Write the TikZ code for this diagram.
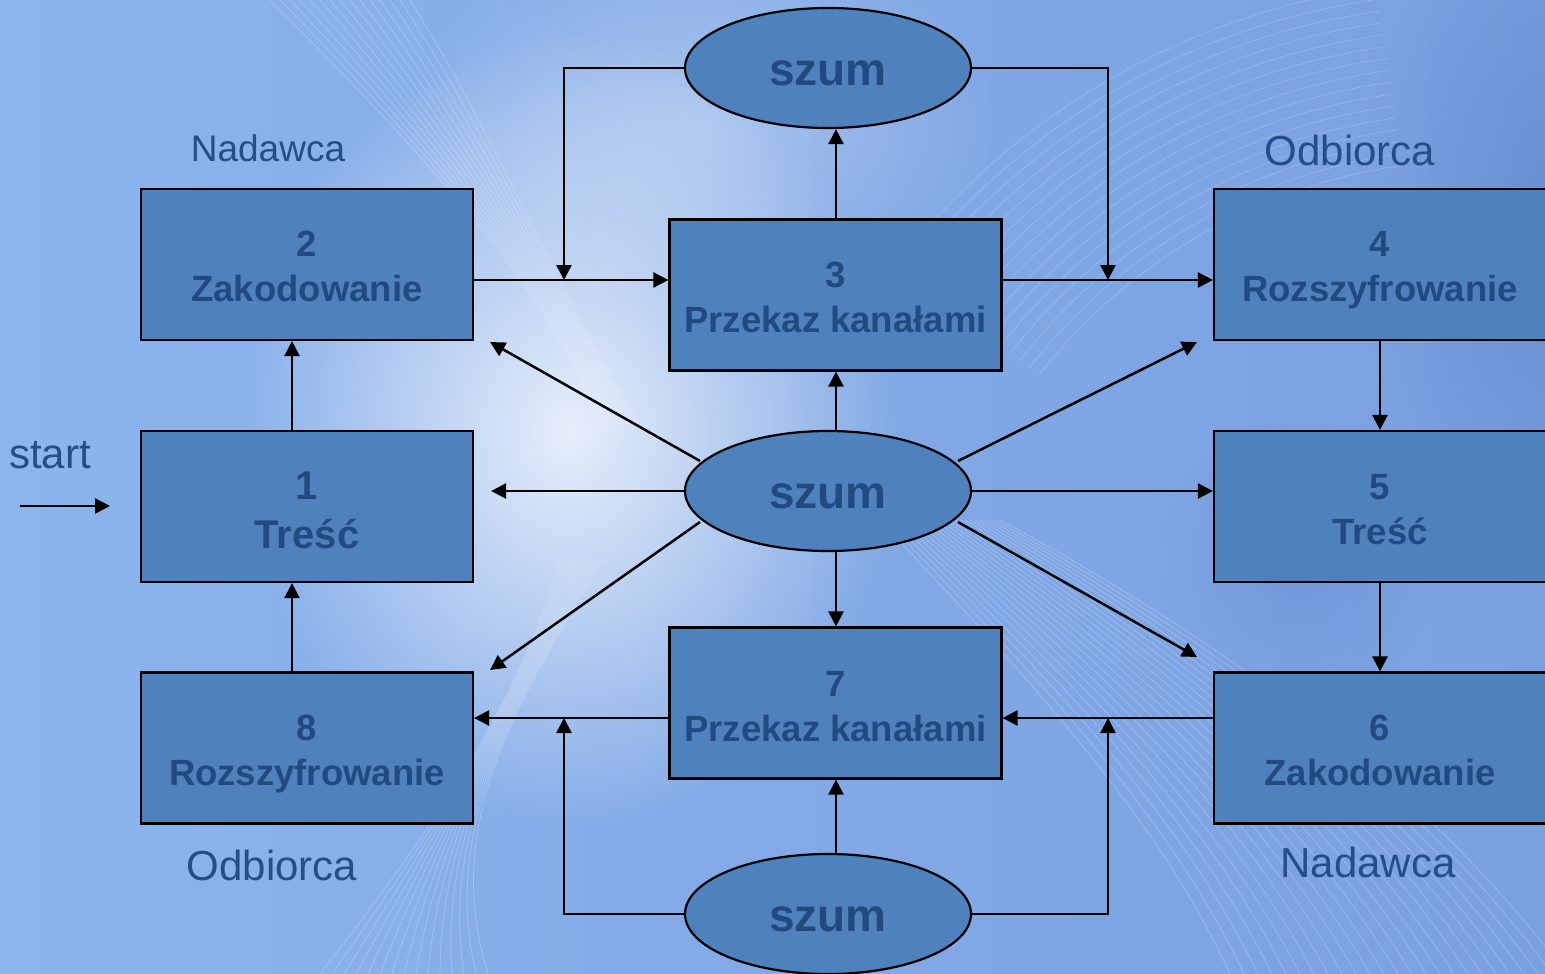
\documentclass[tikz,border=0pt]{standalone}
\usepackage{fontspec}
\setmainfont{Liberation Sans}
\usetikzlibrary{shapes.geometric,arrows.meta,fadings}
\definecolor{bgL}{RGB}{140,180,237}
\definecolor{bgM}{RGB}{160,198,246}
\definecolor{bgR}{RGB}{122,160,224}
\definecolor{bgD}{RGB}{82,120,192}
\definecolor{boxfill}{RGB}{79,129,189}
\definecolor{txt}{RGB}{33,74,128}
\definecolor{lbl}{RGB}{36,78,136}
\tikzfading[name=glowfade, inner color=transparent!0, outer color=transparent!100]
\begin{document}
\begin{tikzpicture}[x=1pt,y=-1pt,
  box/.style={draw=black,line width=2.2pt,fill=boxfill,minimum width=332pt,minimum height=151pt,inner sep=0pt,align=center,text=txt,font=\fontsize{36.5}{45}\selectfont\bfseries},
  oval/.style={ellipse,draw=black,line width=2.2pt,fill=boxfill,minimum width=286pt,minimum height=120pt,inner sep=0pt,text=txt,text height=34pt,text depth=0pt,font=\fontsize{46}{50}\selectfont\bfseries},
  lab/.style={text=lbl,font=\fontsize{42}{48}\selectfont,inner sep=0pt},
  arr/.style={line width=2.5pt,-{Triangle[length=15pt,width=15pt]}},
  wisp/.style={white,line width=0.7pt,opacity=0.25}]
% background
\useasboundingbox (0,0) rectangle (1545,974);
\shade[left color=bgL, middle color=bgM, right color=bgR] (0,0) rectangle (1545,974);
\fill[white, path fading=glowfade, fill opacity=0.8] (570,430) ellipse (330 and 400);
\fill[white, path fading=glowfade, fill opacity=0.3] (700,120) ellipse (300 and 200);
\fill[bgD, path fading=glowfade, fill opacity=0.45] (1560,230) ellipse (200 and 360);
\fill[bgD, path fading=glowfade, fill opacity=0.25] (1300,560) ellipse (140 and 140);
\foreach \i in {0,...,14} {
  \draw[wisp] (270+\i*10,0) .. controls (420+\i*6,150) and (560,300) .. (600+\i*3,430);
  \draw[wisp] (560+\i*3,560) .. controls (520,700) and (440,820) .. (320+\i*12,974);
}
\foreach \i in {0,...,24} {
  \draw[wisp] (880+\i*5,520) .. controls (1000+\i*10,650) and (1150+\i*12,800) .. (1230+\i*14,974);
}
\foreach \r in {560,572,...,740} {
  \draw[wisp,opacity=0.2] ([shift={(1480,720)}]218:\r) arc[start angle=218,end angle=262,radius=\r];
}
\begin{scope}
\clip (0,0) rectangle (1545,974);
% nodes
\node[box] (b2) at (307,264.5) {\rule{0pt}{30pt}2\\Zakodowanie};
\node[box] (b3) at (835.5,295) {\rule{0pt}{30pt}3\\Przekaz kanałami};
\node[box] (b4) at (1380,264.5) {\rule{0pt}{36pt}4\\Rozszyfrowanie};
\node[box,font=\fontsize{40}{49}\selectfont\bfseries] (b1) at (307,506.5) {\rule{0pt}{35pt}1\\Treść};
\node[box] (b5) at (1380,506.5) {\rule{0pt}{32pt}5\\Treść};
\node[box] (b8) at (307,748) {\rule{0pt}{38pt}8\\Rozszyfrowanie};
\node[box] (b7) at (835.5,703) {\rule{0pt}{32pt}7\\Przekaz kanałami};
\node[box] (b6) at (1380,748) {\rule{0pt}{30pt}6\\Zakodowanie};
\node[oval] (st) at (828,68) {szum};
\node[oval] (sm) at (828,491) {szum};
\node[oval] (sb) at (828,914) {szum};
% labels
\node[lab,font=\fontsize{37}{44}\selectfont] (n1) at (268,148) {Nadawca};
\node[lab] (o1) at (1350,150) {Odbiorca};
\node[lab] (s) at (50,455) {start};
\node[lab] (o2) at (272,865) {Odbiorca};
\node[lab] (n2) at (1368,862) {Nadawca};
% helper coordinates
\coordinate (r1) at (0,280);
\coordinate (r2) at (0,718);
\coordinate (c) at (836,0);
\coordinate (cl) at (292,0);
\coordinate (jl) at (564,0);
\coordinate (jr) at (1108,0);
\coordinate (s0) at (20,506);
\coordinate (s1) at (110,506);
\coordinate (d1a) at (700,461);
\coordinate (d1b) at (490,342);
\coordinate (d2a) at (958,461);
\coordinate (d2b) at (1197,342);
\coordinate (d3a) at (700,522);
\coordinate (d3b) at (490,670);
\coordinate (d4a) at (958,522);
\coordinate (d4b) at (1197,657);
% connectors
\draw[arr] (s0) -- (s1);
\draw[arr] (b1.north -| cl) -- (b2.south -| cl);
\draw[arr] (b8.north -| cl) -- (b1.south -| cl);
\draw[arr] (b2.east |- r1) -- (b3.west |- r1);
\draw[arr] (b3.east |- r1) -- (b4.west |- r1);
\draw[arr] (st.west) -| (jl |- r1);
\draw[arr] (st.east) -| (jr |- r1);
\draw[arr] (b3.north -| c) -- (st.south -| c);
\draw[arr] (sm.north -| c) -- (b3.south -| c);
\draw[arr] (sm.south -| c) -- (b7.north -| c);
\draw[arr,shorten >=17pt] (sm.west) -- (b1.east |- sm.west);
\draw[arr] (sm.east) -- (b5.west |- sm.east);
\draw[arr] (d1a) -- (d1b);
\draw[arr] (d2a) -- (d2b);
\draw[arr] (d3a) -- (d3b);
\draw[arr] (d4a) -- (d4b);
\draw[arr] (b4.south) -- (b5.north);
\draw[arr] (b5.south) -- (b6.north);
\draw[arr] (b6.west |- r2) -- (b7.east |- r2);
\draw[arr] (b7.west |- r2) -- (b8.east |- r2);
\draw[arr] (sb.west) -| (jl |- r2);
\draw[arr] (sb.east) -| (jr |- r2);
\draw[arr] (sb.north -| c) -- (b7.south -| c);
\end{scope}
\end{tikzpicture}
\end{document}
